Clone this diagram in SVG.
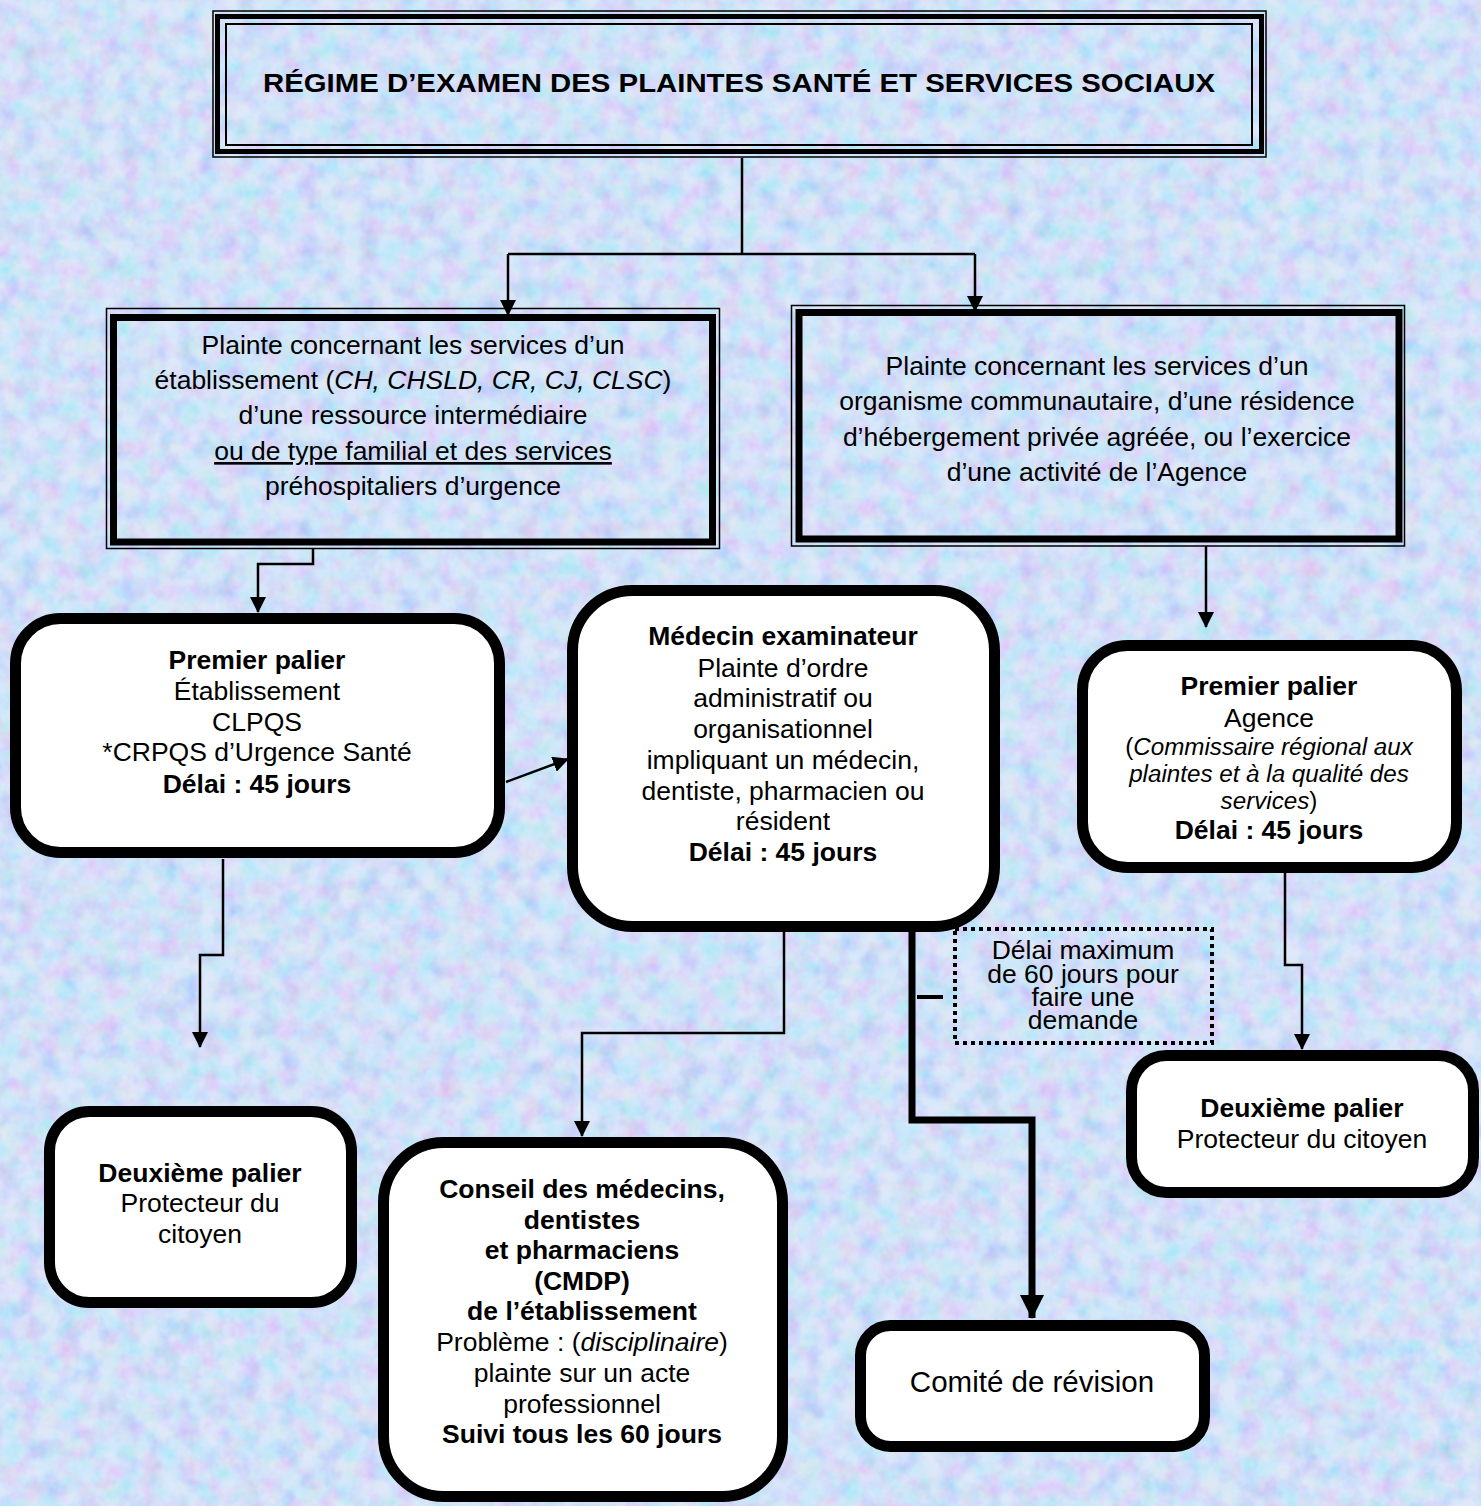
<svg xmlns="http://www.w3.org/2000/svg" width="1481" height="1506" viewBox="0 0 1481 1506">
<defs>
<style>
text{font-family:"Liberation Sans",Arial,sans-serif;fill:#000;text-anchor:middle}
.t{font-size:26.5px}
.s{font-size:24.2px}
.d{font-size:26.5px}
.b{font-weight:bold}
.i{font-style:italic}
.rb{fill:#fff;stroke:#000;stroke-width:11}
.thin{fill:none;stroke:#000;stroke-width:1.5}
.thick{fill:none;stroke:#000;stroke-width:7}
.con{fill:none;stroke:#000;stroke-width:2.5}
</style>
<marker id="ah" markerUnits="userSpaceOnUse" markerWidth="16" markerHeight="16" viewBox="0 0 16 16" refX="15" refY="8" orient="auto">
<path d="M0,0 L16,8 L0,16 Z" fill="#000"/>
</marker>
<marker id="ahb" markerUnits="userSpaceOnUse" markerWidth="24" markerHeight="24" viewBox="0 0 24 24" refX="23" refY="12" orient="auto">
<path d="M0,0 L24,12 L0,24 Z" fill="#000"/>
</marker>
<filter id="tex" x="0" y="0" width="100%" height="100%">
<feTurbulence type="fractalNoise" baseFrequency="0.05" numOctaves="3" seed="7" result="n"/>
<feColorMatrix in="n" type="matrix" values="1.3 0 0 0 0.1  0 1.1 0 0 0.3  0 0 0.5 0 0.72  0 0 0 0 0.45"/>
</filter>
</defs>
<rect x="0" y="0" width="1481" height="1506" fill="#c3d6f5"/>
<rect x="0" y="0" width="1481" height="1506" filter="url(#tex)"/>

<g id="connectors">
<path class="con" d="M742,158 V254 M508,254 H975" />
<path class="con" d="M508,254 V315" marker-end="url(#ah)"/>
<path class="con" d="M975,254 V311" marker-end="url(#ah)"/>
<path class="con" d="M313,549 V564 H258 V612" marker-end="url(#ah)"/>
<path class="con" d="M506,782 L568,759" marker-end="url(#ah)"/>
<path class="con" d="M1206,546 V627" marker-end="url(#ah)"/>
<path class="con" d="M223,859 V955 H200 V1047" marker-end="url(#ah)"/>
<path class="con" d="M784,931 V1033 H582 V1136" marker-end="url(#ah)"/>
<path class="con" d="M1285,873 V965 H1302 V1049" marker-end="url(#ah)"/>
<path fill="none" stroke="#000" stroke-width="7" d="M912,931 V1120 H1032 V1318" marker-end="url(#ahb)"/>
<path fill="none" stroke="#000" stroke-width="4" d="M917,997 H943"/>
</g>

<g id="title">
<rect class="thin" x="213" y="11" width="1053" height="146"/>
<rect fill="none" stroke="#000" stroke-width="5" x="217.5" y="16.5" width="1044" height="135"/>
<rect fill="none" stroke="#000" stroke-width="2" x="226" y="24" width="1026" height="121"/>
<text x="739" y="92" class="b" font-size="26" textLength="952" lengthAdjust="spacingAndGlyphs">RÉGIME D’EXAMEN DES PLAINTES SANTÉ ET SERVICES SOCIAUX</text>
</g>

<g id="plainte-etablissement">
<rect class="thin" x="106.5" y="308.5" width="613" height="240"/>
<rect class="thick" x="113.5" y="317.5" width="599" height="224.5"/>
<text class="t" x="413" y="354">Plainte concernant les services d’un</text>
<text class="t" x="413" y="389">établissement (<tspan class="i">CH, CHSLD, CR, CJ, CLSC</tspan>)</text>
<text class="t" x="413" y="424">d’une ressource intermédiaire</text>
<text class="t" x="413" y="460" text-decoration="underline">ou de type familial et des services</text>
<text class="t" x="413" y="495">préhospitaliers d’urgence</text>
</g>

<g id="plainte-organisme">
<rect class="thin" x="791.5" y="305.5" width="613" height="240.5"/>
<rect class="thick" x="799" y="312.5" width="600" height="226.5"/>
<text class="t" x="1097" y="375">Plainte concernant les services d’un</text>
<text class="t" x="1097" y="410">organisme communautaire, d’une résidence</text>
<text class="t" x="1097" y="446">d’hébergement privée agréée, ou l’exercice</text>
<text class="t" x="1097" y="481">d’une activité de l’Agence</text>
</g>

<g id="premier-palier-etablissement">
<rect class="rb" x="15.5" y="618.5" width="484" height="234" rx="45"/>
<text class="t b" x="257" y="669">Premier palier</text>
<text class="t" x="257" y="700">Établissement</text>
<text class="t" x="257" y="731">CLPQS</text>
<text class="t" x="257" y="761">*CRPQS d’Urgence Santé</text>
<text class="t b" x="257" y="793">Délai : 45 jours</text>
</g>

<g id="medecin-examinateur">
<rect class="rb" x="572.5" y="590.5" width="422" height="336" rx="60"/>
<text class="t b" x="783" y="645">Médecin examinateur</text>
<text class="t" x="783" y="677">Plainte d’ordre</text>
<text class="t" x="783" y="707">administratif ou</text>
<text class="t" x="783" y="738">organisationnel</text>
<text class="t" x="783" y="769">impliquant un médecin,</text>
<text class="t" x="783" y="800">dentiste, pharmacien ou</text>
<text class="t" x="783" y="830">résident</text>
<text class="t b" x="783" y="861">Délai : 45 jours</text>
</g>

<g id="premier-palier-agence">
<rect class="rb" x="1082.5" y="645.5" width="374" height="222" rx="45"/>
<text class="t b" x="1269" y="695">Premier palier</text>
<text class="t" x="1269" y="727">Agence</text>
<text class="s" x="1269" y="755">(<tspan class="i">Commissaire régional aux</tspan></text>
<text class="s i" x="1269" y="782">plaintes et à la qualité des</text>
<text class="s" x="1269" y="809"><tspan class="i">services</tspan>)</text>
<text class="t b" x="1269" y="839">Délai : 45 jours</text>
</g>

<g id="delai-60">
<rect x="955" y="929" width="257" height="114" fill="none" stroke="#000" stroke-width="4" stroke-dasharray="4 4"/>
<text class="d" x="1083" y="959">Délai maximum</text>
<text class="d" x="1083" y="983">de 60 jours pour</text>
<text class="d" x="1083" y="1006">faire une</text>
<text class="d" x="1083" y="1029">demande</text>
</g>

<g id="deuxieme-palier-gauche">
<rect class="rb" x="49.5" y="1111.5" width="302" height="191" rx="40"/>
<text class="t b" x="200" y="1182">Deuxième palier</text>
<text class="t" x="200" y="1212">Protecteur du</text>
<text class="t" x="200" y="1243">citoyen</text>
</g>

<g id="cmdp">
<rect class="rb" x="383.5" y="1142.5" width="399" height="354" rx="60"/>
<text class="t b" x="582" y="1198">Conseil des médecins,</text>
<text class="t b" x="582" y="1229">dentistes</text>
<text class="t b" x="582" y="1259">et pharmaciens</text>
<text class="t b" x="582" y="1290">(CMDP)</text>
<text class="t b" x="582" y="1320">de l’établissement</text>
<text class="t" x="582" y="1351">Problème : (<tspan class="i">disciplinaire</tspan>)</text>
<text class="t" x="582" y="1382">plainte sur un acte</text>
<text class="t" x="582" y="1413">professionnel</text>
<text class="t b" x="582" y="1443">Suivi tous les 60 jours</text>
</g>

<g id="comite-revision">
<rect class="rb" x="860.5" y="1325.5" width="344" height="121" rx="30"/>
<text x="1032" y="1392" font-size="29.5">Comité de révision</text>
</g>

<g id="deuxieme-palier-droite">
<rect class="rb" x="1131.5" y="1055.5" width="342" height="137" rx="35"/>
<text class="t b" x="1302" y="1117">Deuxième palier</text>
<text class="t" x="1302" y="1148">Protecteur du citoyen</text>
</g>
</svg>
